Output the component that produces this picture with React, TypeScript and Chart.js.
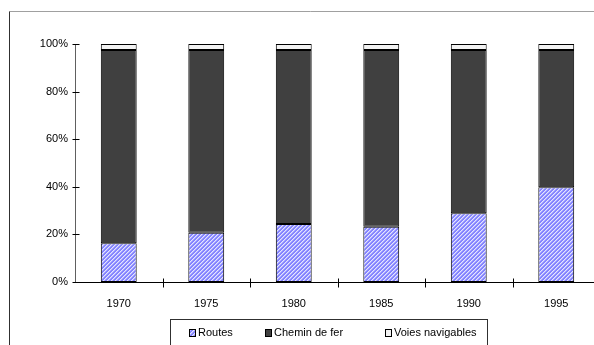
import React, { useEffect, useRef } from "react";
import { Chart, registerables } from "chart.js";

Chart.register(...registerables);

const years = ["1970", "1975", "1980", "1985", "1990", "1995"];
const routes = [16.3, 20.7, 24.4, 23.2, 28.9, 39.8];
const cheminDeFer = [81.2, 76.8, 73.1, 74.3, 68.6, 57.7];
const voiesNavigables = [2.5, 2.5, 2.5, 2.5, 2.5, 2.5];
const seriesLabels = ["Routes", "Chemin de fer", "Voies navigables"];
const yTicks = [0, 20, 40, 60, 80, 100];

const FONT = "'Liberation Sans', Arial, sans-serif";

function makePattern(): CanvasPattern | string {
  const c = document.createElement("canvas");
  c.width = 4;
  c.height = 4;
  const g = c.getContext("2d");
  if (!g) return "#8c8cff";
  g.fillStyle = "#8484ff";
  g.fillRect(0, 0, 4, 4);
  for (let i = 0; i < 4; i++) {
    g.fillStyle = "#e4e4ff";
    g.fillRect(i, 3 - i, 1, 1);
    g.fillStyle = "#b4b4ff";
    g.fillRect((i + 1) % 4, 3 - i, 1, 1);
  }
  const p = g.createPattern(c, "repeat");
  return p || "#8c8cff";
}

const framePlugin = {
  id: "frame",
  beforeDraw(chart: any) {
    const ctx = chart.ctx;
    ctx.save();
    ctx.fillStyle = "#ffffff";
    ctx.fillRect(0, 0, chart.width, chart.height);
    ctx.lineWidth = 1;
    ctx.strokeStyle = "#a0a0a0";
    ctx.beginPath();
    ctx.moveTo(9.5, 11.5);
    ctx.lineTo(chart.width, 11.5);
    ctx.stroke();
    ctx.strokeStyle = "#303030";
    ctx.beginPath();
    ctx.moveTo(9.5, 11.5);
    ctx.lineTo(9.5, chart.height);
    ctx.stroke();
    ctx.restore();
  },
};

const axesPlugin = {
  id: "axesDraw",
  afterDatasetsDraw(chart: any) {
    const ctx = chart.ctx;
    const { left, right, top, bottom } = chart.chartArea;
    const xs = chart.scales.x;
    const ys = chart.scales.y;
    const lx = Math.round(left) + 0.5;
    const by = Math.round(bottom) + 0.5;
    ctx.save();
    ctx.lineWidth = 1;
    ctx.strokeStyle = "#606060";
    ctx.beginPath();
    ctx.moveTo(lx, Math.round(top));
    ctx.lineTo(lx, by);
    ctx.stroke();
    ctx.strokeStyle = "#000000";
    yTicks.forEach((v) => {
      const py = Math.round(ys.getPixelForValue(v)) + 0.5;
      ctx.beginPath();
      ctx.moveTo(lx - 3, py);
      ctx.lineTo(lx + 4, py);
      ctx.stroke();
    });
    ctx.beginPath();
    ctx.moveTo(lx, by);
    ctx.lineTo(right, by);
    ctx.stroke();
    for (let i = 1; i < years.length; i++) {
      const px = Math.round((xs.getPixelForValue(i - 1) + xs.getPixelForValue(i)) / 2) + 0.5;
      ctx.beginPath();
      ctx.moveTo(px, by - 4);
      ctx.lineTo(px, by + 5);
      ctx.stroke();
    }
    ctx.restore();
  },
};

const legendPlugin = {
  id: "boxLegend",
  afterDraw(chart: any) {
    const ctx = chart.ctx;
    ctx.save();
    ctx.lineWidth = 1;
    ctx.strokeStyle = "#303030";
    ctx.strokeRect(170.5, 319.5, 317, 40);
    const boxX = [189, 265, 385];
    const cy = 333;
    ctx.font = `11px ${FONT}`;
    ctx.textBaseline = "middle";
    ctx.textAlign = "left";
    chart.data.datasets.forEach((ds: any, i: number) => {
      const x = boxX[i];
      ctx.fillStyle = ds.backgroundColor;
      ctx.fillRect(x, cy - 4, 6, 7);
      ctx.strokeStyle = "#000000";
      ctx.strokeRect(x + 0.5, cy - 3.5, 6, 7);
      ctx.fillStyle = "#000000";
      ctx.fillText(ds.label, x + 9, cy);
    });
    ctx.restore();
  },
};

export default function App() {
  const ref = useRef<HTMLCanvasElement>(null);

  useEffect(() => {
    if (!ref.current) return;
    const pattern = makePattern();
    const chart = new Chart(ref.current, {
      type: "bar",
      data: {
        labels: years,
        datasets: [
          {
            label: seriesLabels[0],
            data: routes,
            backgroundColor: pattern as any,
            borderColor: "#000000",
            borderWidth: 1,
            borderSkipped: false,
          },
          {
            label: seriesLabels[1],
            data: cheminDeFer,
            backgroundColor: "#404040",
            borderColor: "#000000",
            borderWidth: 1,
            borderSkipped: false,
          },
          {
            label: seriesLabels[2],
            data: voiesNavigables,
            backgroundColor: "#f2f2f2",
            borderColor: "#000000",
            borderWidth: 1,
            borderSkipped: false,
          },
        ],
      },
      options: {
        responsive: false,
        animation: false,
        devicePixelRatio: 1,
        layout: { padding: { left: 0, right: 12, top: 44, bottom: 0 } },
        datasets: {
          bar: { categoryPercentage: 1, barPercentage: 0.41 },
        },
        plugins: {
          legend: { display: false },
          tooltip: { enabled: false },
        },
        scales: {
          x: {
            stacked: true,
            grid: { display: false, drawTicks: false },
            border: { display: false },
            ticks: {
              color: "#000000",
              font: { family: FONT, size: 11 },
              padding: 15,
              maxRotation: 0,
            },
            afterFit: (s: any) => {
              s.height = 63;
            },
          },
          y: {
            stacked: true,
            min: 0,
            max: 100,
            grid: { display: false, drawTicks: false },
            border: { display: false },
            afterBuildTicks: (s: any) => {
              s.ticks = yTicks.map((v) => ({ value: v }));
            },
            ticks: {
              color: "#000000",
              font: { family: FONT, size: 11 },
              padding: 7,
              callback: (v: any) => `${v}%`,
            },
            afterFit: (s: any) => {
              s.width = 75;
            },
          },
        },
      },
      plugins: [framePlugin, axesPlugin, legendPlugin],
    });
    return () => chart.destroy();
  }, []);

  return (
    <div
      style={{
        position: "absolute",
        left: 0,
        top: 0,
        width: 594,
        height: 345,
        overflow: "hidden",
        background: "#ffffff",
      }}
    >
      <canvas ref={ref} width={612} height={345} style={{ width: 612, height: 345, display: "block" }} />
    </div>
  );
}
